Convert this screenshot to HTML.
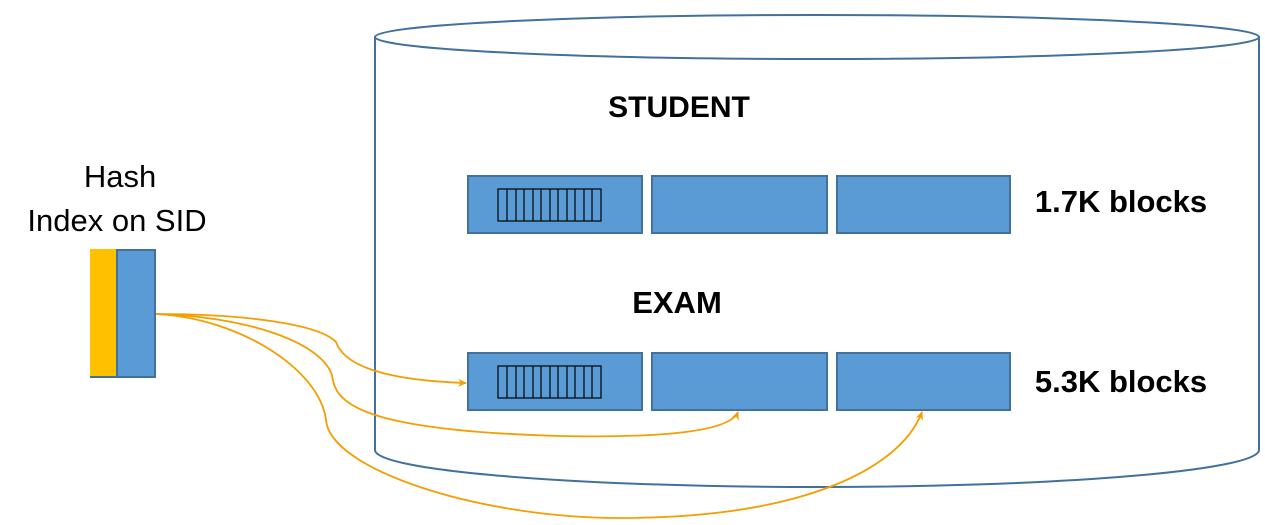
<!DOCTYPE html>
<html><head><style>
body{margin:0;width:1265px;height:520px;background:#fff;overflow:hidden;font-family:"Liberation Sans",sans-serif;}
</style></head><body>
<svg width="1265" height="520" viewBox="0 0 1265 520" xmlns="http://www.w3.org/2000/svg">
<defs><marker id="a" markerWidth="10" markerHeight="10" refX="8" refY="4" orient="auto" markerUnits="userSpaceOnUse"><path d="M0,0 L9,4 L0,8 L3,4 Z" fill="#f59e00"/></marker></defs>
<g stroke="#41719c" stroke-width="2" fill="none">
<ellipse cx="817" cy="37" rx="442" ry="22"/>
<path d="M375,37 L375,450 A442,37 0 0 0 1259,450 L1259,37"/>
</g>
<text x="679" y="117" font-size="30" font-weight="bold" text-anchor="middle">STUDENT</text>
<text x="677" y="313" font-size="31" font-weight="bold" text-anchor="middle">EXAM</text>
<text x="1121" y="212" font-size="31" font-weight="bold" text-anchor="middle">1.7K blocks</text>
<text x="1121" y="392" font-size="31" font-weight="bold" text-anchor="middle">5.3K blocks</text>
<text x="120" y="187" font-size="31" text-anchor="middle">Hash</text>
<text x="117" y="231" font-size="31" text-anchor="middle">Index on SID</text>
<g fill="#5b9bd5" stroke="#41719c" stroke-width="2">
<rect x="468" y="176" width="174" height="57"/><rect x="652" y="176" width="175" height="57"/><rect x="837" y="176" width="173" height="57"/>
<rect x="468" y="353" width="174" height="57"/><rect x="652" y="353" width="175" height="57"/><rect x="837" y="353" width="173" height="57"/>
</g>
<rect x="90" y="249" width="28" height="128" fill="#ffc000"/>
<rect x="117" y="250" width="38" height="127" fill="#5b9bd5" stroke="#41719c" stroke-width="2"/>
<line x1="90" y1="377" x2="118" y2="377" stroke="#41719c" stroke-width="2"/>
<g stroke="#000" stroke-width="1.2" fill="none">
<rect x="498" y="189" width="103" height="32"/>
<path d="M507,189v32M516,189v32M524,189v32M533,189v32M541,189v32M550,189v32M558,189v32M567,189v32M575,189v32M584,189v32M592,189v32"/>
<rect x="498" y="366" width="103" height="32"/>
<path d="M507,366v32M516,366v32M524,366v32M533,366v32M541,366v32M550,366v32M558,366v32M567,366v32M575,366v32M584,366v32M592,366v32"/>
</g>
<g stroke="#f59e00" stroke-width="1.8" fill="none">
<path d="M156,314 C250,314 320,325 336,342 C342,360 370,380 466,383" marker-end="url(#a)"/>
<path d="M156,314 C240,316 320,340 332,375 C335,400 350,430 560,436 C660,438 730,432 738,412" marker-end="url(#a)"/>
<path d="M156,314 C240,318 320,370 326,420 C330,470 480,518 620,518 C800,518 900,470 922,412" marker-end="url(#a)"/>
</g>
</svg>
</body></html>
